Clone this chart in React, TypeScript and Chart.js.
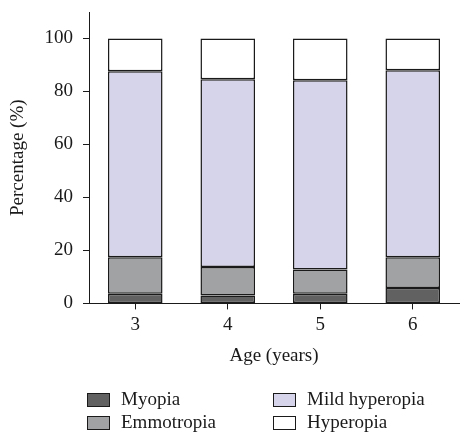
import React, { useEffect, useRef } from "react";
import { Chart, registerables } from "chart.js";

Chart.register(...registerables);

const categories = ["3", "4", "5", "6"];
const myopia = [3.6, 3.0, 3.6, 5.8];
const emmotropia = [13.8, 10.7, 9.2, 11.6];
const mildHyperopia = [70.2, 70.9, 71.4, 70.6];
const hyperopia = [12.4, 15.4, 15.8, 12.0];
const yTicks = [0, 20, 40, 60, 80, 100];

const seriesNames = ["Myopia", "Emmotropia", "Mild hyperopia", "Hyperopia"];
const seriesColors = ["#606160", "#a1a2a4", "#d6d4ea", "#ffffff"];

const FONT = "'Liberation Serif', 'Times New Roman', serif";
const INK = "#1a1a1a";

export default function App() {
  const ref = useRef<HTMLCanvasElement | null>(null);

  useEffect(() => {
    if (!ref.current) return;
    const values = [myopia, emmotropia, mildHyperopia, hyperopia];
    const chart = new Chart(ref.current, {
      type: "bar",
      data: {
        labels: categories,
        datasets: values.map((v, i) => ({
          label: seriesNames[i],
          data: v,
          backgroundColor: seriesColors[i],
          borderColor: INK,
          borderWidth: 1.5,
          borderSkipped: false,
          inflateAmount: 0,
          categoryPercentage: 1,
          barPercentage: 0.59,
        })),
      },
      options: {
        responsive: false,
        animation: false,
        layout: { padding: { top: 12, bottom: 65, left: 0, right: 1 } },
        plugins: { legend: { display: false }, tooltip: { enabled: false } },
        scales: {
          x: {
            stacked: true,
            offset: true,
            grid: {
              display: true,
              drawOnChartArea: false,
              drawTicks: true,
              tickLength: 6,
              offset: false,
              color: INK,
            },
            border: { display: true, color: INK, width: 1 },
            ticks: { color: INK, padding: 4, font: { family: FONT, size: 19 } },
            title: {
              display: true,
              text: "Age (years)",
              color: INK,
              font: { family: FONT, size: 19 },
              padding: { top: 4, bottom: 0 },
            },
          },
          y: {
            stacked: true,
            min: 0,
            max: 110,
            afterBuildTicks: (axis: any) => {
              axis.ticks = yTicks.map((v) => ({ value: v }));
            },
            afterFit: (axis: any) => {
              axis.width = 89;
              axis.paddingTop = 0;
              axis.paddingBottom = 0;
            },
            grid: {
              display: true,
              drawOnChartArea: false,
              drawTicks: true,
              tickLength: 6,
              color: INK,
            },
            border: { display: true, color: INK, width: 1 },
            ticks: { color: INK, padding: 10, font: { family: FONT, size: 19 } },
            title: {
              display: true,
              text: "Percentage (%)",
              color: INK,
              font: { family: FONT, size: 19 },
              padding: { top: 7, bottom: 0 },
            },
          },
        },
      },
    });
    return () => chart.destroy();
  }, []);

  const legendItems = [
    { name: seriesNames[0], color: seriesColors[0], x: 87, y: 393 },
    { name: seriesNames[1], color: seriesColors[1], x: 87, y: 416 },
    { name: seriesNames[2], color: seriesColors[2], x: 273, y: 393 },
    { name: seriesNames[3], color: seriesColors[3], x: 273, y: 416 },
  ];

  return (
    <div style={{ position: "fixed", left: 0, top: 0, width: 460, height: 432, background: "#fff", overflow: "hidden" }}>
      <canvas ref={ref} width={460} height={432} style={{ display: "block" }} />
      {legendItems.map((it) => (
        <div key={it.name}>
          <div
            style={{
              position: "absolute",
              left: it.x,
              top: it.y,
              width: 21,
              height: 12,
              background: it.color,
              border: `1px solid ${INK}`,
            }}
          />
          <div
            style={{
              position: "absolute",
              left: it.x + 34,
              top: it.y - 5,
              fontFamily: FONT,
              fontSize: 19,
              lineHeight: "22px",
              color: INK,
              whiteSpace: "nowrap",
            }}
          >
            {it.name}
          </div>
        </div>
      ))}
    </div>
  );
}
